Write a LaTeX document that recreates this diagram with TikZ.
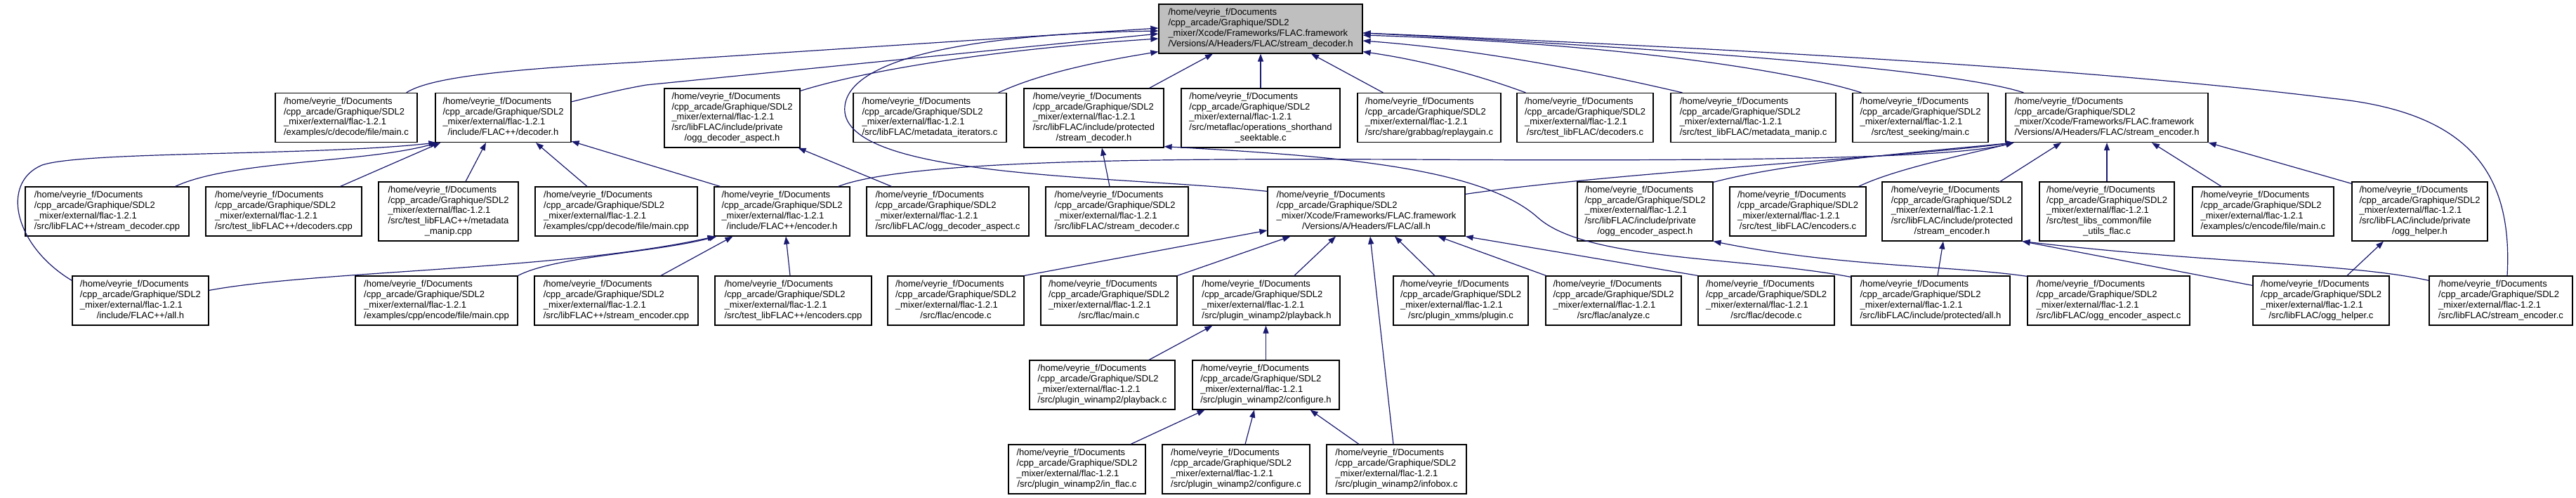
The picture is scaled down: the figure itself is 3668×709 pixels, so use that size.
\documentclass[tikz,border=0pt]{standalone}
\usepackage{fontspec}
\setmainfont{Liberation Sans}
\usetikzlibrary{arrows.meta}
\definecolor{edgeblue}{HTML}{191970}
\definecolor{mainfill}{HTML}{BFBFBF}
\newcommand\lastln[1]{\multicolumn{1}{@{}c@{}}{#1}}
\newcommand\flt[1]{\begin{tabular}{@{}l@{}}/home/veyrie\_f/Documents\\/cpp\_arcade/Graphique/SDL2\\\_mixer/external/flac-1.2.1\\#1\end{tabular}}
\newcommand\xct[1]{\begin{tabular}{@{}l@{}}/home/veyrie\_f/Documents\\/cpp\_arcade/Graphique/SDL2\\\_mixer/Xcode/Frameworks/FLAC.framework\\#1\end{tabular}}
\begin{document}
\begin{tikzpicture}[x=1pt,y=-1pt,
  box/.style={draw=black, line width=1.2pt, fill=white, inner sep=0pt, font=\fontsize{13}{14.8}\selectfont},
  mainbox/.style={box, fill=mainfill},
  four/.style={minimum height=70pt},
  five/.style={minimum height=84pt},
  dep/.style={draw=edgeblue, line width=1.2pt, -{Triangle[length=11pt,width=8pt]}}]
\useasboundingbox[fill=white] (0,0) rectangle (3668,709);

% row 0
\node[mainbox, four, minimum width=290pt] (M) at (1795,41) {\xct{\lastln{/Versions/A/Headers/FLAC/stream\_decoder.h}}};

% row 1
\node[box, four, minimum width=202pt] (exCdec) at (493,167.5) {\flt{\lastln{/examples/c/decode/file/main.c}}};
\node[box, four, minimum width=193pt] (dpp) at (716.5,167.5) {\flt{\lastln{/include/FLAC++/decoder.h}}};
\node[box, five, minimum width=193pt] (odah) at (1042.5,168) {\flt{/src/libFLAC/include/private\\\lastln{/ogg\_decoder\_aspect.h}}};
\node[box, four, minimum width=218pt] (mi) at (1324,167.5) {\flt{\lastln{/src/libFLAC/metadata\_iterators.c}}};
\node[box, five, minimum width=199pt] (psd) at (1557.5,168) {\flt{/src/libFLAC/include/protected\\\lastln{/stream\_decoder.h}}};
\node[box, five, minimum width=226pt] (ost) at (1795,168) {\flt{/src/metaflac/operations\_shorthand\\\lastln{\_seektable.c}}};
\node[box, four, minimum width=204pt] (rg) at (2035,167.5) {\flt{\lastln{/src/share/grabbag/replaygain.c}}};
\node[box, four, minimum width=194pt] (tdec) at (2257,167.5) {\flt{\lastln{/src/test\_libFLAC/decoders.c}}};
\node[box, four, minimum width=235pt] (tmm) at (2496.5,167.5) {\flt{\lastln{/src/test\_libFLAC/metadata\_manip.c}}};
\node[box, four, minimum width=193pt] (tseek) at (2734.5,167.5) {\flt{\lastln{/src/test\_seeking/main.c}}};
\node[box, four, minimum width=288pt] (SE) at (3000,167.5) {\xct{\lastln{/Versions/A/Headers/FLAC/stream\_encoder.h}}};

% row 2
\node[box, four, minimum width=233pt] (sdcpp) at (152.5,301) {\flt{\lastln{/src/libFLAC++/stream\_decoder.cpp}}};
\node[box, four, minimum width=222pt] (tdcpp) at (404,301) {\flt{\lastln{/src/test\_libFLAC++/decoders.cpp}}};
\node[box, five, minimum width=199pt] (mmcpp) at (638.5,301) {\flt{/src/test\_libFLAC++/metadata\\\lastln{\_manip.cpp}}};
\node[box, four, minimum width=231pt] (exCppDec) at (877.5,301) {\flt{\lastln{/examples/cpp/decode/file/main.cpp}}};
\node[box, four, minimum width=193pt] (epp) at (1113.5,301) {\flt{\lastln{/include/FLAC++/encoder.h}}};
\node[box, four, minimum width=231pt] (odac) at (1349.5,301) {\flt{\lastln{/src/libFLAC/ogg\_decoder\_aspect.c}}};
\node[box, four, minimum width=203pt] (sdc) at (1590.5,301) {\flt{\lastln{/src/libFLAC/stream\_decoder.c}}};
\node[box, four, minimum width=281pt] (fall) at (1945.5,301) {\xct{\lastln{/Versions/A/Headers/FLAC/all.h}}};
\node[box, five, minimum width=193pt] (oeah) at (2342.5,301) {\flt{/src/libFLAC/include/private\\\lastln{/ogg\_encoder\_aspect.h}}};
\node[box, four, minimum width=194pt] (tenc) at (2560,301) {\flt{\lastln{/src/test\_libFLAC/encoders.c}}};
\node[box, five, minimum width=199pt] (pseh) at (2779.5,301) {\flt{/src/libFLAC/include/protected\\\lastln{/stream\_encoder.h}}};
\node[box, five, minimum width=192pt] (fuf) at (3000,301) {\flt{/src/test\_libs\_common/file\\\lastln{\_utils\_flac.c}}};
\node[box, four, minimum width=201pt] (exCenc) at (3222.5,301) {\flt{\lastln{/examples/c/encode/file/main.c}}};
\node[box, five, minimum width=193pt] (ohh) at (3445.5,301) {\flt{/src/libFLAC/include/private\\\lastln{/ogg\_helper.h}}};

% row 3
\node[box, four, minimum width=194pt] (fppall) at (200,428) {\flt{\lastln{/include/FLAC++/all.h}}};
\node[box, four, minimum width=231pt] (exCppEnc) at (621.5,428) {\flt{\lastln{/examples/cpp/encode/file/main.cpp}}};
\node[box, four, minimum width=233pt] (secpp) at (877.5,428) {\flt{\lastln{/src/libFLAC++/stream\_encoder.cpp}}};
\node[box, four, minimum width=223pt] (tecpp) at (1129.5,428) {\flt{\lastln{/src/test\_libFLAC++/encoders.cpp}}};
\node[box, four, minimum width=194pt] (fenc) at (1361,428) {\flt{\lastln{/src/flac/encode.c}}};
\node[box, four, minimum width=194pt] (fmain) at (1579,428) {\flt{\lastln{/src/flac/main.c}}};
\node[box, four, minimum width=209pt] (pbh) at (1803.5,428) {\flt{\lastln{/src/plugin\_winamp2/playback.h}}};
\node[box, four, minimum width=192pt] (xmms) at (2080,428) {\flt{\lastln{/src/plugin\_xmms/plugin.c}}};
\node[box, four, minimum width=193pt] (fana) at (2297.5,428) {\flt{\lastln{/src/flac/analyze.c}}};
\node[box, four, minimum width=194pt] (fdec) at (2515,428) {\flt{\lastln{/src/flac/decode.c}}};
\node[box, four, minimum width=226pt] (pall) at (2749,428) {\flt{\lastln{/src/libFLAC/include/protected/all.h}}};
\node[box, four, minimum width=231pt] (oeac) at (3002.5,428) {\flt{\lastln{/src/libFLAC/ogg\_encoder\_aspect.c}}};
\node[box, four, minimum width=194pt] (ohc) at (3305,428) {\flt{\lastln{/src/libFLAC/ogg\_helper.c}}};
\node[box, four, minimum width=204pt] (sec) at (3561,428) {\flt{\lastln{/src/libFLAC/stream\_encoder.c}}};

% row 4
\node[box, four, minimum width=207pt] (pbc) at (1569.5,548) {\flt{\lastln{/src/plugin\_winamp2/playback.c}}};
\node[box, four, minimum width=209pt] (cfgh) at (1802.5,548) {\flt{\lastln{/src/plugin\_winamp2/configure.h}}};

% row 5
\node[box, four, minimum width=195pt] (inflac) at (1533.5,668) {\flt{\lastln{/src/plugin\_winamp2/in\_flac.c}}};
\node[box, four, minimum width=210pt] (cfgc) at (1760,668) {\flt{\lastln{/src/plugin\_winamp2/configure.c}}};
\node[box, four, minimum width=199pt] (infobox) at (1988.5,668) {\flt{\lastln{/src/plugin\_winamp2/infobox.c}}};

% ---- edges into M
\draw[dep] ([xshift=-16pt]exCdec.north east) .. controls (610,112) and (700,100) .. (900,89) -- ([yshift=1pt]M.west);
\draw[dep] ([yshift=-13pt]dpp.north east) .. controls (850,136) and (880,128) .. (920,121) -- ([yshift=-7pt]M.west);
\draw[dep] ([yshift=-4pt]odah.north east) .. controls (1250,95) and (1450,68) .. ([yshift=-14pt]M.west);
\draw[dep] ([yshift=-7pt]fall.north west) .. controls (1600,250) and (1215,255) .. (1203,160) .. controls (1195,80) and (1400,48) .. ([yshift=-3pt]M.west);
\draw[dep] ([xshift=-12pt]mi.north east) .. controls (1480,105) and (1560,88) .. ([yshift=3pt]M.south west);
\draw[dep] ([xshift=-21pt]psd.north east) -- ([xshift=-68pt]M.south);
\draw[dep] (ost.north) -- (M.south);
\draw[dep] ([xshift=37pt]rg.north west) -- ([xshift=72pt]M.south);
\draw[dep] ([xshift=13pt]tdec.north west) .. controls (2100,105) and (2020,85) .. ([yshift=3pt]M.south east);
\draw[dep] ([xshift=17pt]tmm.north west) .. controls (2250,98) and (2100,70) .. ([yshift=-17pt]M.east);
\draw[dep] ([xshift=13pt]tseek.north west) .. controls (2550,100) and (2300,62) .. ([yshift=-9pt]M.east);
\draw[dep] ([xshift=26pt]SE.north west) .. controls (2800,105) and (2500,75) .. ([yshift=-6pt]M.east);
\draw[dep] ([xshift=9pt]sec.north) .. controls (3578,250) and (3520,160) .. (3320,140) .. controls (3000,100) and (2500,70) .. ([yshift=-6pt]M.east);

% ---- edges into FLAC++/decoder.h
\draw[dep] ([xshift=-20pt]sdcpp.north east) .. controls (330,228) and (520,232) .. ([xshift=4pt]dpp.south west);
\draw[dep] ([yshift=-7pt]fppall.north west) .. controls (20,350) and (0,260) .. (60,235) .. controls (120,215) and (450,222) .. ([xshift=2pt]dpp.south west);
\draw[dep] ([xshift=-31pt]tdcpp.north east) -- ([xshift=8pt]dpp.south west);
\draw[dep] ([xshift=24.5pt]mmcpp.north) -- ([xshift=-24.5pt]dpp.south);
\draw[dep] ([xshift=-41.5pt]exCppDec.north) -- ([xshift=46.5pt]dpp.south);
\draw[dep] ([xshift=9pt]epp.north west) -- ([yshift=2pt]dpp.south east);

% ---- ogg_decoder_aspect.h
\draw[dep] ([xshift=36pt]odac.north west) -- ([xshift=-3pt]odah.south east);

% ---- FLAC++/encoder.h
\draw[dep] ([yshift=-21pt]fppall.north east) .. controls (450,385) and (800,385) .. ([xshift=2pt]epp.south west);
\draw[dep] (exCppEnc.north east) .. controls (790,365) and (930,360) .. ([xshift=4pt]epp.south west);
\draw[dep] ([xshift=63.5pt]secpp.north) -- ([xshift=27pt]epp.south west);
\draw[dep] ([xshift=-4.5pt]tecpp.north) -- ([xshift=5.5pt]epp.south);

% ---- protected/stream_decoder.h
\draw[dep] ([xshift=-10.5pt]sdc.north) -- ([xshift=11.5pt]psd.south);
\draw[dep] ([yshift=-2pt]pall.north west) .. controls (2480,365) and (2260,372) .. (2190,310) .. controls (2110,238) and (1900,222) .. ([yshift=2pt]psd.south east);

% ---- FLAC/all.h
\draw[dep] (fenc.north east) -- ([yshift=-27pt]fall.west);
\draw[dep] (fmain.north east) -- ([xshift=33pt]fall.south west);
\draw[dep] ([xshift=39.5pt]pbh.north) -- ([xshift=-43.5pt]fall.south);
\draw[dep] ([xshift=-4.5pt]infobox.north) -- ([xshift=5.5pt]fall.south);
\draw[dep] ([xshift=-37pt]xmms.north) -- ([xshift=40.5pt]fall.south);
\draw[dep] ([xshift=1pt]fana.north west) -- ([xshift=-39pt]fall.south east);
\draw[dep] (fdec.north west) -- (fall.south east);

% ---- ogg_encoder_aspect.h
\draw[dep] ([yshift=-1pt]oeac.north west) .. controls (2780,378) and (2620,380) .. (oeah.south east);

% ---- Xcode stream_encoder.h
\draw[dep] ([xshift=-17pt]epp.north east) .. controls (1300,225) and (1700,226) .. (2000,227) .. controls (2500,230) and (2780,225) .. ([xshift=12pt]SE.south west);
\draw[dep] ([yshift=-11pt]fall.north east) .. controls (2300,245) and (2700,225) .. ([xshift=12pt]SE.south west);
\draw[dep] ([yshift=-1pt]oeah.north east) .. controls (2550,230) and (2750,215) .. ([xshift=12pt]SE.south west);
\draw[dep] ([xshift=-11pt]tenc.north east) .. controls (2700,240) and (2800,220) .. ([xshift=12pt]SE.south west);
\draw[dep] ([xshift=68.5pt]pseh.north) -- ([xshift=-65pt]SE.south);
\draw[dep] (fuf.north) -- (SE.south);
\draw[dep] ([xshift=-59.5pt]exCenc.north) -- ([xshift=64pt]SE.south);
\draw[dep] ([yshift=-3pt]ohh.north west) -- (SE.south east);

% ---- protected/stream_encoder.h
\draw[dep] ([xshift=10pt]pall.north) -- ([xshift=-12.5pt]pseh.south);
\draw[dep] ([yshift=-14pt]ohc.north west) -- (pseh.south east);
\draw[dep] ([yshift=-7pt]sec.north west) .. controls (3350,375) and (3150,375) .. (pseh.south east);

% ---- ogg_helper.h
\draw[dep] ([xshift=37pt]ohc.north) -- ([xshift=-51.5pt]ohh.south);

% ---- plugin_winamp2
\draw[dep] ([xshift=66.5pt]pbc.north) -- ([xshift=28pt]pbh.south west);
\draw[dep] (cfgh.north) -- (cfgh.north |- pbh.south);
\draw[dep] ([xshift=76.5pt]inflac.north) -- ([xshift=18pt]cfgh.south west);
\draw[dep] ([xshift=13pt]cfgc.north) -- ([xshift=-16.5pt]cfgh.south);
\draw[dep] ([xshift=-53.5pt]infobox.north) -- ([xshift=-42pt]cfgh.south east);
\end{tikzpicture}
\end{document}
